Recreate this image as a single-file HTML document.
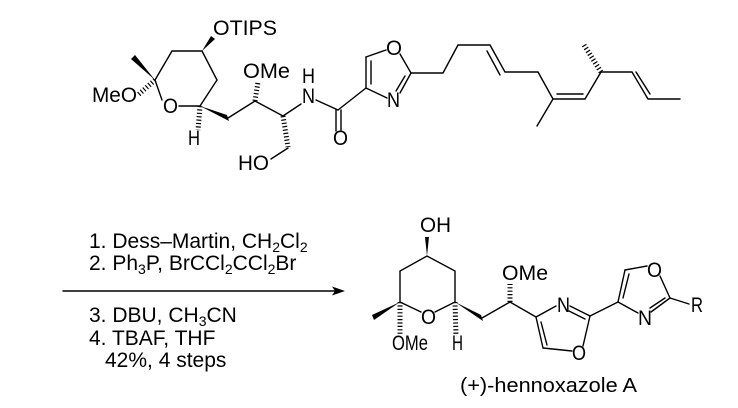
<!DOCTYPE html>
<html><head><meta charset="utf-8"><style>
html,body{margin:0;padding:0;background:#fff;}
svg{display:block;}
text{font-family:"Liberation Sans",Arial,sans-serif;fill:#000;}
</style></head><body>
<svg width="738" height="408" viewBox="0 0 738 408" xmlns="http://www.w3.org/2000/svg">
<g stroke="#000" stroke-width="1.4" fill="none" stroke-linecap="round">
<polyline points="155,80 172,51 202,51 217,80 200,106 179,106"/>
<line x1="162" y1="100" x2="155" y2="80"/>
<line x1="228" y1="118" x2="255" y2="101"/>
<line x1="255" y1="101" x2="283" y2="116"/>
<line x1="283" y1="116" x2="301" y2="104"/>
<line x1="288" y1="148" x2="271" y2="159"/>
<line x1="316" y1="100" x2="338" y2="110"/>
<line x1="336" y1="110" x2="336" y2="131"/>
<line x1="341" y1="110" x2="341" y2="131"/>
<line x1="338" y1="110" x2="366" y2="88"/>
<line x1="366" y1="88" x2="366" y2="57"/>
<line x1="371" y1="84" x2="371" y2="61"/>
<line x1="366" y1="57" x2="386" y2="50"/>
<line x1="400" y1="54" x2="411" y2="73"/>
<line x1="411" y1="73" x2="400" y2="93"/>
<line x1="405" y1="76" x2="396" y2="91"/>
<line x1="387" y1="98" x2="366" y2="88"/>
<polyline points="411,73 443,73 458,45 490,45 505,72 538,72 553,99 585,99 601,72 632,72 648,99 680,99"/>
<line x1="487" y1="51" x2="500" y2="75"/>
<line x1="557" y1="94" x2="583" y2="94"/>
<line x1="636" y1="72" x2="650" y2="94"/>
<line x1="553" y1="99" x2="537" y2="126"/>
<line x1="63" y1="291" x2="335" y2="291"/>
<polyline points="421,312 400,302 400,271 427,256 455,271 455,302 435,312"/>
<line x1="482" y1="318" x2="510" y2="302"/>
<line x1="510" y1="302" x2="536" y2="317"/>
<line x1="536" y1="317" x2="556" y2="306"/>
<line x1="536" y1="317" x2="543" y2="348"/>
<line x1="541" y1="322" x2="547" y2="345"/>
<line x1="543" y1="348" x2="572" y2="351"/>
<line x1="583" y1="346" x2="590" y2="316"/>
<line x1="590" y1="316" x2="570" y2="306"/>
<line x1="585" y1="319" x2="569" y2="311"/>
<line x1="590" y1="316" x2="618" y2="302"/>
<line x1="618" y1="302" x2="625" y2="270"/>
<line x1="623" y1="298" x2="629" y2="274"/>
<line x1="625" y1="270" x2="647" y2="266"/>
<line x1="660" y1="276" x2="670" y2="298"/>
<line x1="670" y1="298" x2="651" y2="312"/>
<line x1="665" y1="298" x2="650" y2="308"/>
<line x1="638" y1="313" x2="618" y2="302"/>
<line x1="670" y1="298" x2="689" y2="304"/>
</g>
<polygon points="345,291 332,286.5 335,291 332,295.5" fill="#000"/>
<g fill="#000">
<polygon points="202,51 211,36 215,39"/>
<polygon points="155,80 131,59 135,55"/>
<polygon points="200,106 227,115 229,121"/>
<polygon points="427,256 425,237 429,237"/>
<polygon points="400,302 372,315 374,320"/>
<polygon points="455,302 481,315 483,321"/>
</g>
<g stroke="#000" stroke-width="5" stroke-dasharray="1.2 2.2" fill="none">
<line x1="155" y1="80" x2="138" y2="95"/>
<line x1="200" y1="106" x2="198" y2="130"/>
<line x1="255" y1="101" x2="258" y2="82"/>
<line x1="283" y1="116" x2="288" y2="147"/>
<line x1="601" y1="72" x2="584" y2="45"/>
<line x1="400" y1="302" x2="400" y2="336"/>
<line x1="455" y1="302" x2="456" y2="336"/>
<line x1="510" y1="302" x2="510" y2="284"/>
</g>
<g font-size="21">
<text x="213" y="35" textLength="64" lengthAdjust="spacingAndGlyphs">OTIPS</text>
<text x="92" y="102" textLength="45" lengthAdjust="spacingAndGlyphs">MeO</text>
<text x="163" y="113" textLength="15" lengthAdjust="spacingAndGlyphs">O</text>
<text x="188" y="145" textLength="12" lengthAdjust="spacingAndGlyphs">H</text>
<text x="243" y="78" textLength="47" lengthAdjust="spacingAndGlyphs">OMe</text>
<text x="302" y="83" textLength="13" lengthAdjust="spacingAndGlyphs">H</text>
<text x="302" y="103" textLength="13" lengthAdjust="spacingAndGlyphs">N</text>
<text x="238" y="170" textLength="31" lengthAdjust="spacingAndGlyphs">HO</text>
<text x="333" y="145" textLength="15" lengthAdjust="spacingAndGlyphs">O</text>
<text x="386" y="55" textLength="16" lengthAdjust="spacingAndGlyphs">O</text>
<text x="387" y="107" textLength="13" lengthAdjust="spacingAndGlyphs">N</text>
<text x="420" y="232" textLength="31" lengthAdjust="spacingAndGlyphs">OH</text>
<text x="421" y="324" textLength="15" lengthAdjust="spacingAndGlyphs">O</text>
<text x="392" y="350" textLength="36" lengthAdjust="spacingAndGlyphs">OMe</text>
<text x="452" y="350" textLength="11" lengthAdjust="spacingAndGlyphs">H</text>
<text x="502" y="280" textLength="46" lengthAdjust="spacingAndGlyphs">OMe</text>
<text x="557" y="312" textLength="13" lengthAdjust="spacingAndGlyphs">N</text>
<text x="572" y="360" textLength="14" lengthAdjust="spacingAndGlyphs">O</text>
<text x="647" y="277" textLength="15" lengthAdjust="spacingAndGlyphs">O</text>
<text x="638" y="325" textLength="14" lengthAdjust="spacingAndGlyphs">N</text>
<text x="691" y="312" textLength="12" lengthAdjust="spacingAndGlyphs">R</text>
</g>
<text x="460" y="392" font-size="20" textLength="177" lengthAdjust="spacingAndGlyphs">(+)-hennoxazole A</text>
<g font-size="21">
<text x="89" y="248">1. Dess–Martin, CH<tspan font-size="14" dy="4">2</tspan><tspan dy="-4">Cl</tspan><tspan font-size="14" dy="4">2</tspan></text>
<text x="89" y="270">2. Ph<tspan font-size="14" dy="4">3</tspan><tspan dy="-4">P, BrCCl</tspan><tspan font-size="14" dy="4">2</tspan><tspan dy="-4">CCl</tspan><tspan font-size="14" dy="4">2</tspan><tspan dy="-4">Br</tspan></text>
<text x="89" y="322">3. DBU, CH<tspan font-size="14" dy="4">3</tspan><tspan dy="-4">CN</tspan></text>
<text x="89" y="345">4. TBAF, THF</text>
<text x="105" y="367">42%, 4 steps</text>
</g>
</svg>
</body></html>
